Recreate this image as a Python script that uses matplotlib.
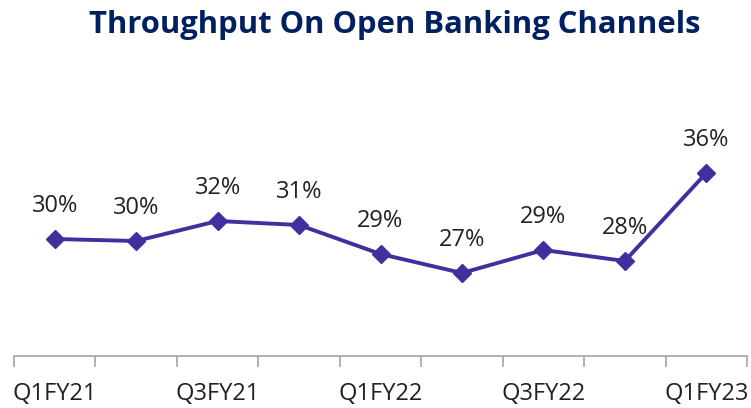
import matplotlib
matplotlib.use("Agg")
import matplotlib.pyplot as plt

quarters = ["Q1FY21", "Q2FY21", "Q3FY21", "Q4FY21", "Q1FY22",
            "Q2FY22", "Q3FY22", "Q4FY22", "Q1FY23"]
throughput = [30.06, 29.88, 31.68, 31.32, 28.71, 27.0, 29.07, 28.08, 36.0]
shown_ticks = ["Q1FY21", "Q3FY21", "Q1FY22", "Q3FY22", "Q1FY23"]

LINE = "#3F2F9F"
TITLE = "#002060"
AXIS = "#A6A6A6"
TEXT = "#222222"

plt.rcParams["font.family"] = ["Open Sans", "DejaVu Sans"]

fig = plt.figure(figsize=(7.51, 4.08), dpi=100)
ax = fig.add_axes([14 / 751, 52 / 408, 733 / 751, 256 / 408])

x = list(range(len(quarters)))
ax.plot(x, throughput, color=LINE, lw=2.8, marker="D", markersize=9,
        markeredgecolor=LINE, markerfacecolor=LINE, solid_joinstyle="round")

for xi, v in zip(x, throughput):
    ax.annotate(f"{v:.0f}%", (xi, v), xytext=(0, 24), textcoords="offset points",
                ha="center", va="center", fontsize=17, color=TEXT)

ax.set_xlim(-0.5, len(quarters) - 0.5)
ax.set_ylim(19.53, 42.57)

# category boundary ticks along the bottom axis
ax.set_xticks([i - 0.5 for i in range(len(quarters) + 1)])
ax.set_xticklabels([])
ax.set_xticks([q for q, name in zip(x, quarters) if name in shown_ticks], minor=True)
ax.set_xticklabels(shown_ticks, minor=True, fontsize=17, color=TEXT)
ax.tick_params(axis="x", which="major", length=8, width=1.2, color=AXIS, direction="out")
ax.tick_params(axis="x", which="minor", length=0, pad=19)
ax.set_yticks([])

for side in ["top", "right", "left"]:
    ax.spines[side].set_visible(False)
ax.spines["bottom"].set_color(AXIS)
ax.spines["bottom"].set_linewidth(1.2)

fig.text(395 / 751, 1 - 33 / 408, "Throughput On Open Banking Channels",
         ha="center", va="baseline", fontsize=22.3, fontweight="bold", color=TITLE)

fig.savefig("out.png", dpi=100)
